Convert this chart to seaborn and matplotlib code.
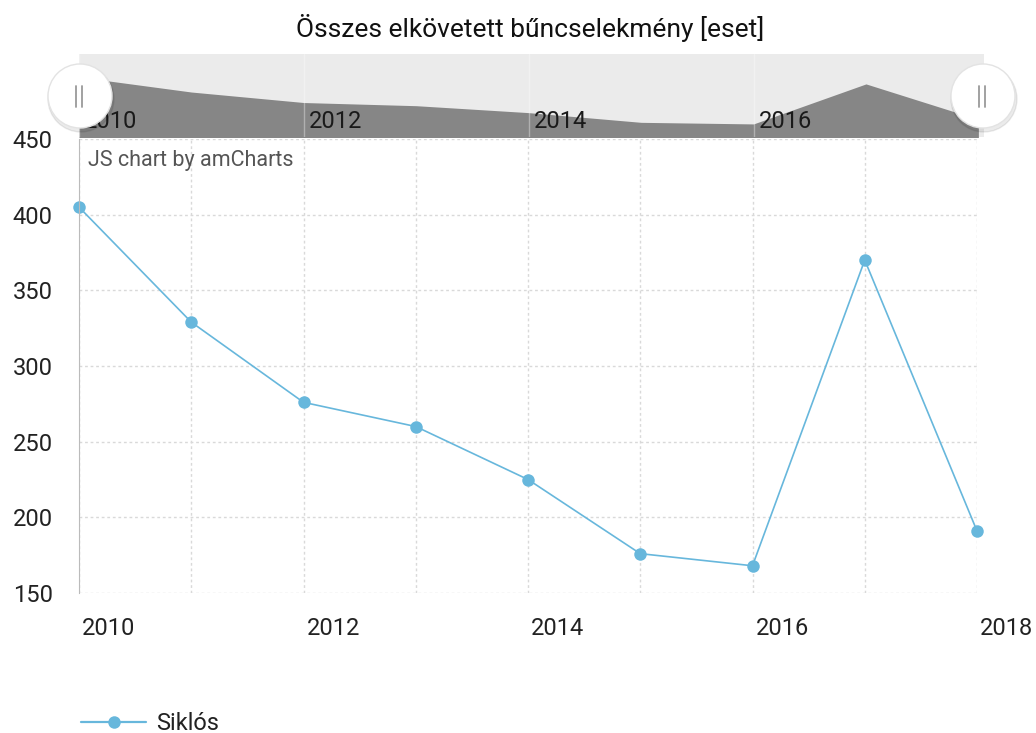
import matplotlib
matplotlib.use('Agg')
import matplotlib.pyplot as plt
import matplotlib.transforms as mtransforms
from matplotlib.patches import Circle
from matplotlib.lines import Line2D
import seaborn as sns
import pandas as pd

years = [2010, 2011, 2012, 2013, 2014, 2015, 2016, 2017, 2018]
cases = [405, 329, 276, 260, 225, 176, 168, 370, 191]
y_ticks = [150, 200, 250, 300, 350, 400, 450]
x_labels = [2010, 2012, 2014, 2016, 2018]
scroll_labels = [2010, 2012, 2014, 2016]
series_name = 'Siklós'
title = 'Összes elkövetett bűncselekmény [eset]'

df = pd.DataFrame({'year': years, 'cases': cases})

sns.set_style('white')
plt.rcParams['font.family'] = ['Roboto', 'DejaVu Sans']

LINE = '#67b7dc'
GRID = '#d9d9d9'
W, H = 1036, 733

fig = plt.figure(figsize=(W / 100, H / 100), dpi=100)

# main chart
ax = fig.add_axes([79/W, 1-593/H, 898/W, 454/H])
sns.lineplot(data=df, x='year', y='cases', ax=ax, color=LINE, lw=1.2,
             marker='o', markersize=9, markeredgewidth=0, label=series_name,
             clip_on=False)
ax.set_xlim(2010, 2018)
ax.set_ylim(150, 450)
ax.set_yticks(y_ticks)
ax.set_xticks(years)
ax.set_xticklabels([str(y) if y in x_labels else '' for y in years])
ax.grid(True, color=GRID, ls=(0, (2, 2)), lw=1)
for s in ['top', 'right', 'bottom']:
    ax.spines[s].set_visible(False)
ax.spines['left'].set_color('#bbbbbb')
ax.spines['left'].set_linestyle((0, (2, 1)))
ax.tick_params(axis='y', length=8, width=1.2, color='#aaaaaa', labelsize=17,
               pad=11, labelcolor='#222222')
ax.tick_params(axis='x', length=0, labelsize=17, pad=17, labelcolor='#222222')
shift = mtransforms.ScaledTranslation(3/100, 0, fig.dpi_scale_trans)
for lab in ax.get_xticklabels():
    lab.set_ha('left')
    lab.set_transform(lab.get_transform() + shift)
ax.set_xlabel('')
ax.set_ylabel('')
ax.text(0.01, 0.975, 'JS chart by amCharts', transform=ax.transAxes,
        fontsize=15.5, color='#555555', va='top', ha='left')

leg = ax.legend(loc='center left', bbox_to_anchor=(-0.021, -0.287), frameon=False,
                fontsize=17, handlelength=2.75, handletextpad=0.42,
                labelcolor='#222222')
for ln in leg.get_lines():
    ln.set_linewidth(1.6)

# scrollbar
sx = fig.add_axes([79/W, 1-137/H, 905/W, 83/H])
sx.set_facecolor('#ebebeb')
sx.fill_between(years, cases, 0, color='#868686', lw=0, zorder=1)
sx.set_xlim(2010, 2018.05)
sx.set_ylim(102, 521)
sx.set_xticks(scroll_labels)
sx.set_yticks([])
sx.grid(True, axis='x', color='#ffffff', alpha=0.35, lw=1, zorder=2)
sx.set_axisbelow(False)
sx.tick_params(length=0, labelbottom=False)
for s in sx.spines.values():
    s.set_visible(False)
for y in scroll_labels:
    sx.text(y + 0.045, 124, str(y), fontsize=17, color='#1a1a1a',
            va='bottom', ha='left', zorder=3)

# handles
for hx in [80, 983]:
    shadow = Circle((hx + 1, H - 99), 33, transform=None, color='#000000',
                    alpha=0.08, zorder=10)
    c = Circle((hx, H - 96), 32, transform=None, facecolor='white',
               edgecolor='#e3e3e3', lw=1, zorder=11)
    fig.patches.extend([shadow, c])
    for dx in (-3, 3):
        fig.lines.append(Line2D([(hx + dx - 1) / W] * 2,
                                [1 - 86/H, 1 - 107/H],
                                transform=fig.transFigure, color='#9a9a9a',
                                lw=1.3, zorder=12))

fig.text(530/W, 1 - 28/H, title, fontsize=19, ha='center', va='center',
         color='#111111')

fig.savefig('out.png', dpi=100)
